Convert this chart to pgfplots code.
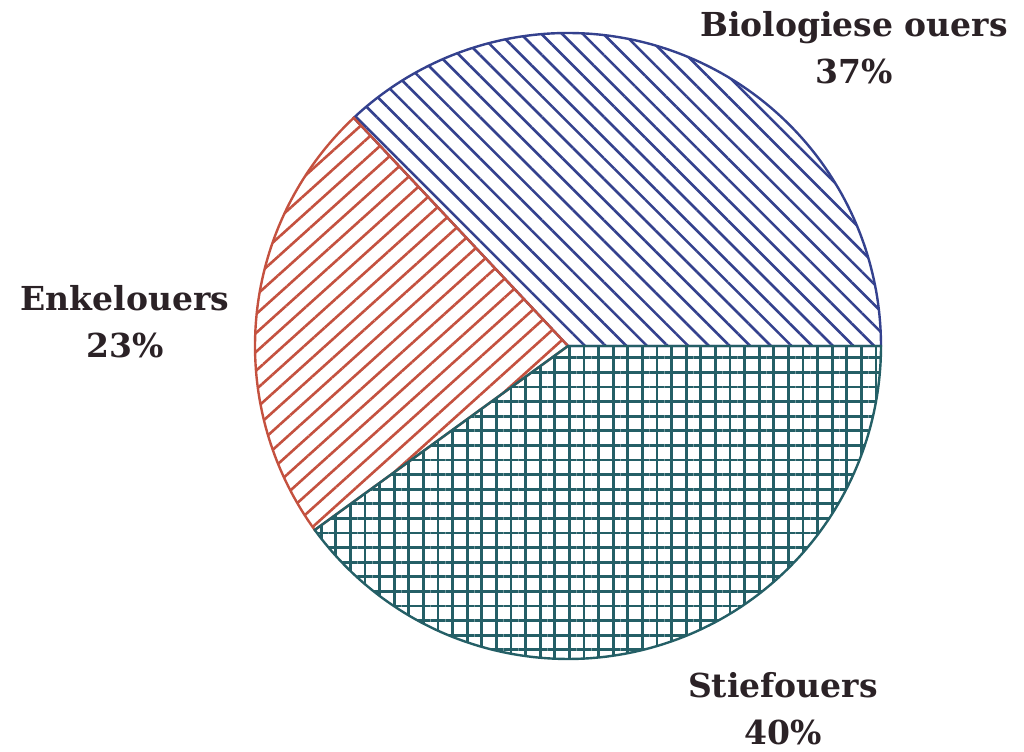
\documentclass[border=0pt]{standalone}
\usepackage{fontspec}
\setmainfont{DejaVu Serif}
\usepackage{pgfplots}
\usepackage{pgfplotstable}
\pgfplotsset{compat=1.18}
\usetikzlibrary{patterns.meta}
\definecolor{cblue}{HTML}{34418E}
\definecolor{cred}{HTML}{C4513F}
\definecolor{cteal}{HTML}{245F66}
\definecolor{ctext}{HTML}{2B2226}
\pgfplotstableread{
label value
Biologiese 37
Enkelouers 23
Stiefouers 40
}\piedata
\tikzset{lbl/.style={font=\fontsize{16.5}{23.5}\selectfont\bfseries, text=ctext, align=center}}
\begin{document}
\begin{tikzpicture}
\pgfplotstablegetelem{0}{value}\of\piedata \pgfmathsetmacro{\va}{\pgfplotsretval}
\pgfplotstablegetelem{1}{value}\of\piedata \pgfmathsetmacro{\vb}{\pgfplotsretval}
\pgfplotstablegetelem{2}{value}\of\piedata \pgfmathsetmacro{\vc}{\pgfplotsretval}
\pgfmathsetmacro{\aA}{3.6*\va}
\pgfmathsetmacro{\aB}{3.6*(\va+\vb)}
\begin{axis}[
  scale only axis, width=512pt, height=375pt,
  xmin=0, xmax=1024, ymin=-750, ymax=0,
  hide axis, clip=false,
]
\addplot[draw=none] coordinates {(0,0) (1024,-750)};
% Biologiese ouers
\addplot[draw=cblue, line width=1.2pt, pattern={Lines[angle=-45,distance=7.3pt,line width=1.3pt]}, pattern color=cblue,
  domain=0:\aA, samples=120, variable=\t]
  ({568+313*cos(t)}, {-346+313*sin(t)}) -- (axis cs:568,-346) -- cycle;
% Enkelouers
\addplot[draw=cred, line width=1.2pt, pattern={Lines[angle=42,distance=7pt,line width=1.3pt]}, pattern color=cred,
  domain=\aA:\aB, samples=80, variable=\t]
  ({568+313*cos(t)}, {-346+313*sin(t)}) -- (axis cs:568,-346) -- cycle;
% Stiefouers (grid = horizontal + vertical lines)
\addplot[draw=none, pattern={Lines[angle=0,distance=7.3pt,line width=1.4pt]}, pattern color=cteal,
  domain=\aB:360, samples=140, variable=\t]
  ({568+313*cos(t)}, {-346+313*sin(t)}) -- (axis cs:568,-346) -- cycle;
\addplot[draw=cteal, line width=1.2pt, pattern={Lines[angle=90,distance=7.3pt,line width=1.4pt]}, pattern color=cteal,
  domain=\aB:360, samples=140, variable=\t]
  ({568+313*cos(t)}, {-346+313*sin(t)}) -- (axis cs:568,-346) -- cycle;
\node[lbl] at (axis cs:854,-48) {Biologiese ouers\\37\%};
\node[lbl] at (axis cs:125,-322) {Enkelouers\\23\%};
\node[lbl] at (axis cs:783,-709) {Stiefouers\\40\%};
\end{axis}
\end{tikzpicture}
\end{document}
